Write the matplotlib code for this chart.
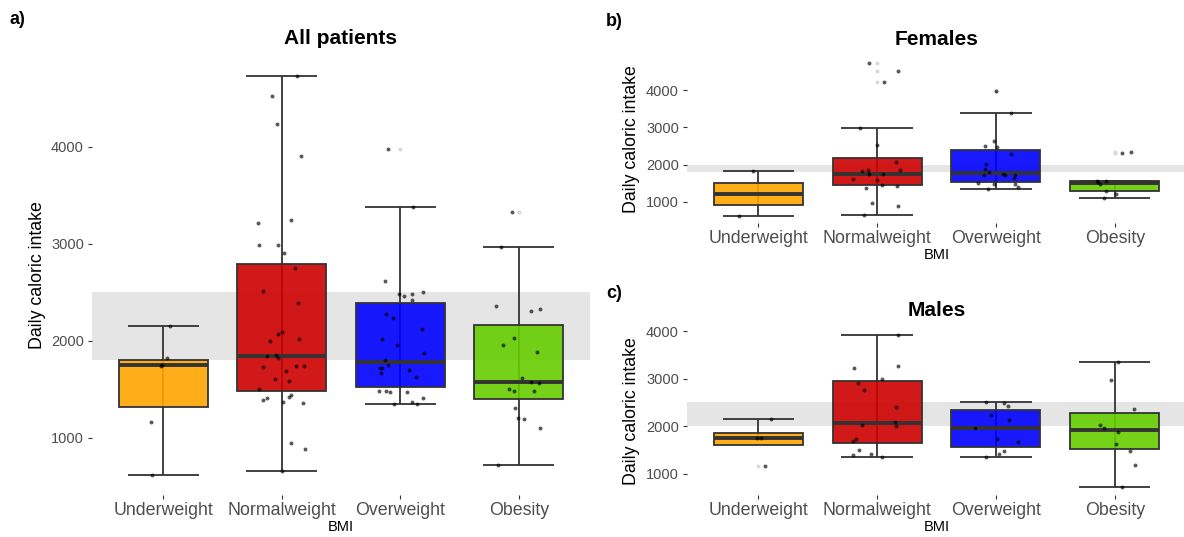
import matplotlib.pyplot as plt
from matplotlib.colors import to_rgba
import numpy as np

plt.rcParams['font.family'] = ['Liberation Sans', 'DejaVu Sans']

bmi_groups = ['Underweight', 'Normalweight', 'Overweight', 'Obesity']
bmi_colors = ['#FFA500', '#CD0000', '#0000FF', '#66CD00']

# ---- All patients: daily intake per patient, one list per BMI group
all_values = [
    [2149, 1820, 1747, 1741, 1166, 617],
    [4733, 4517, 4235, 3902, 3214, 3249, 2991, 2991, 2905, 2754, 2510, 2387,
     2091, 2070, 2022, 1995, 1840, 1857, 1826, 1730, 1740, 1740, 1689, 1609,
     1589, 1500, 1390, 1410, 1369, 1424, 1444, 1356, 950, 888, 655],
    [3974, 3383, 2620, 2482, 2465, 2479, 2503, 2421, 2276, 2235, 2122, 2015,
     1957, 1874, 1802, 1754, 1723, 1723, 1671, 1699, 1630, 1486, 1486, 1469,
     1475, 1413, 1372, 1348, 1348],
    [3330, 2967, 2359, 2304, 2331, 2026, 1954, 1881, 1613, 1572, 1565, 1500,
     1479, 1486, 1307, 1204, 1191, 1101, 720],
]
# horizontal jitter of each point, in category units
all_jitter = [
    [0.06, 0.03, -0.01, -0.02, -0.10, -0.09],
    [0.13, -0.08, -0.04, 0.16, -0.20, 0.08, -0.19, -0.03, 0.02, 0.11, -0.16, 0.14,
     0.00, -0.03, 0.15, -0.10, -0.12, -0.05, -0.03, -0.16, 0.12, 0.19, 0.04, -0.06,
     0.06, -0.19, -0.16, -0.12, 0.01, 0.06, 0.08, 0.18, 0.08, 0.20, 0.00],
    [-0.10, 0.11, -0.13, -0.01, 0.03, 0.10, 0.19, 0.10, -0.12, -0.06, 0.18, -0.15,
     -0.03, 0.20, -0.13, -0.10, -0.17, -0.15, -0.16, 0.07, 0.13, -0.18, -0.12, -0.09,
     0.06, 0.19, 0.10, 0.14, -0.05],
    [-0.06, -0.15, -0.19, 0.10, 0.18, -0.04, -0.13, 0.15, 0.03, 0.10, 0.17, -0.08,
     -0.04, 0.13, -0.03, -0.01, 0.04, 0.18, -0.18],
]
all_q1 = [1314, 1486, 1524, 1397]
all_median = [1747, 1840, 1778, 1572]
all_q3 = [1805, 2795, 2386, 2166]
all_band = (1800, 2500)

# ---- Females
fem_values = [
    [1822, 622],
    [4730, 4514, 4235, 2984, 2514, 2073, 1865, 1830, 1847, 1749, 1739, 1614,
     1595, 1452, 1380, 1414, 955, 892, 649],
    [3973, 3389, 2639, 2495, 2477, 2288, 2027, 1892, 1811, 1712, 1757, 1730,
     1730, 1649, 1495, 1486, 1476, 1395, 1351],
    [2303, 2330, 1568, 1524, 1478, 1551, 1297, 1208, 1092],
]
fem_jitter = [
    [-0.04, -0.16],
    [-0.07, 0.18, 0.06, -0.14, 0.00, 0.16, 0.19, -0.13, -0.08, -0.07, 0.05, -0.20,
     0.00, 0.04, -0.09, 0.17, -0.04, 0.18, -0.11],
    [0.00, 0.13, -0.02, -0.09, 0.01, 0.13, -0.08, -0.09, -0.06, -0.10, 0.06, 0.08,
     0.16, 0.15, -0.15, -0.02, 0.16, 0.19, -0.07],
    [0.06, 0.14, -0.15, -0.14, -0.12, -0.07, -0.07, 0.01, -0.09],
]
fem_q1 = [903, 1441, 1541, 1297]
fem_median = [1208, 1749, 1765, 1497]
fem_q3 = [1514, 2180, 2386, 1568]
fem_band = (1800, 2000)

# ---- Males
male_values = [
    [2157, 1757, 1743, 1168],
    [3922, 3229, 3264, 2997, 2913, 2760, 2396, 2024, 2094, 2003, 1736, 1688,
     1498, 1421, 1393, 1351],
    [2514, 2486, 2423, 2241, 2129, 1961, 1730, 1673, 1477, 1414, 1351],
    [3342, 2977, 2360, 2024, 1961, 1877, 1618, 1477, 1189, 714],
]
male_jitter = [
    [0.11, -0.01, 0.02, 0.06],
    [0.18, -0.19, 0.18, 0.04, -0.16, -0.11, 0.16, -0.13, 0.15, 0.16, -0.18, -0.20,
     -0.15, -0.05, -0.20, 0.04],
    [-0.08, 0.07, 0.10, -0.04, 0.11, -0.18, 0.01, 0.19, 0.07, 0.03, -0.08],
    [0.03, -0.03, 0.16, -0.12, -0.09, 0.03, 0.01, 0.13, 0.17, 0.06],
]
male_q1 = [1604, 1639, 1568, 1513]
male_median = [1751, 2060, 1961, 1919]
male_q3 = [1849, 2942, 2346, 2276]
male_band = (2000, 2500)

EDGE = '#333333'


def box_panel(ax, values, jitter, q1, median, q3, band, title):
    """Boxplot with errorbar whiskers and jittered points, ggplot look."""
    ax.axhspan(band[0], band[1], color='#E5E5E5', lw=0, zorder=0)

    for i, vals in enumerate(values):
        x = i + 1
        v = np.asarray(vals, dtype=float)
        iqr = q3[i] - q1[i]
        keep = v[(v >= q1[i] - 1.5 * iqr) & (v <= q3[i] + 1.5 * iqr)]
        lo, hi = keep.min(), keep.max()

        # whiskers as an errorbar running through the box
        ax.vlines(x, lo, hi, color=EDGE, lw=1.3, zorder=1)
        ax.hlines([lo, hi], x - 0.3, x + 0.3, color=EDGE, lw=1.3, zorder=1)

        ax.bar(x, q3[i] - q1[i], bottom=q1[i], width=0.75,
               facecolor=to_rgba(bmi_colors[i], 0.9), edgecolor=EDGE,
               lw=1.3, zorder=2)
        ax.hlines(median[i], x - 0.375, x + 0.375, color=EDGE, lw=2.8,
                  zorder=3, capstyle='butt')

        out = v[(v < lo) | (v > hi)]
        ax.scatter(np.full(len(out), x), out, s=8, color='#D9D9D9',
                   lw=0, zorder=3)
        ax.scatter(x + np.asarray(jitter[i]), v, s=8, color='black',
                   alpha=0.65, lw=0, zorder=4)

    allv = np.concatenate([np.asarray(a, dtype=float) for a in values])
    pad = 0.05 * (allv.max() - allv.min())
    ax.set_ylim(allv.min() - pad, allv.max() + pad)
    ax.set_xlim(0.4, 4.6)

    ax.set_xticks(range(1, 5), bmi_groups)
    ax.set_yticks([1000, 2000, 3000, 4000])
    ax.tick_params(axis='x', labelsize=12.8, labelcolor='#4D4D4D',
                   color=EDGE, length=2.8, width=0.8, pad=2)
    ax.tick_params(axis='y', labelsize=10.5, labelcolor='#4D4D4D',
                   color=EDGE, length=2.8, width=0.8, pad=3)
    for s in ax.spines.values():
        s.set_visible(False)

    ax.set_ylabel('Daily caloric intake', fontsize=12.8, labelpad=4)
    ax.set_xlabel('BMI', fontsize=10.5, labelpad=1)
    ax.set_title(title, fontsize=15, fontweight='bold', pad=8)


fig = plt.figure(figsize=(11.84, 5.37), dpi=100)

ax_a = fig.add_axes([0.0777, 0.0782, 0.4206, 0.8184])
ax_b = fig.add_axes([0.5802, 0.5842, 0.4215, 0.3121])
ax_c = fig.add_axes([0.5802, 0.0782, 0.4215, 0.3127])

box_panel(ax_a, all_values, all_jitter, all_q1, all_median, all_q3,
          all_band, 'All patients')
box_panel(ax_b, fem_values, fem_jitter, fem_q1, fem_median, fem_q3,
          fem_band, 'Females')
box_panel(ax_c, male_values, male_jitter, male_q1, male_median, male_q3,
          male_band, 'Males')

fig.text(10 / 1184, 1 - 20 / 537, 'a)', fontsize=13, fontweight='bold', va='center')
fig.text(606 / 1184, 1 - 22 / 537, 'b)', fontsize=13, fontweight='bold', va='center')
fig.text(606 / 1184, 1 - 293 / 537, 'c)', fontsize=13, fontweight='bold', va='center')

fig.savefig('out.png', dpi=100)
